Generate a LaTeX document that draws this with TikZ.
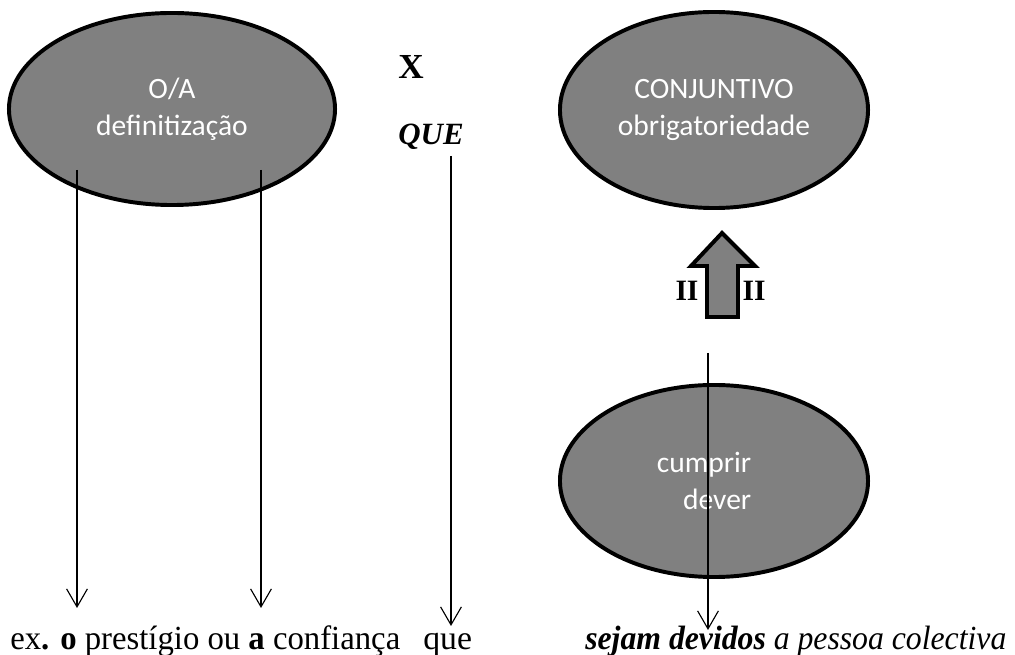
\documentclass[tikz,border=0pt]{standalone}
\usepackage{fontspec}
\setmainfont{Liberation Serif}
\newfontfamily\calfont{Carlito}
\usepackage{tikz}
\usetikzlibrary{arrows.meta,shapes.geometric}
\tikzset{
  line cap=round,
  line join=round,
  oval/.style={draw, ellipse, line width=2.8pt, fill=black!50, text=white,
    inner sep=0pt, align=center, font=\calfont\fontsize{21}{26}\selectfont},
  seta/.style={-{Straight Barb[length=0.45cm, width=0.52cm]}, line width=0.8pt},
  bigarrow/.style={draw, line width=2.8pt, fill=black!50, line join=miter},
  sinal/.style={font=\bfseries\fontsize{21}{24}\selectfont},
  linha/.style={font=\fontsize{24}{30}\selectfont, inner sep=0pt}
}

\begin{document}
\begin{tikzpicture}[x=0.025cm, y=-0.025cm]
  \useasboundingbox (0,0) rectangle (1015,655);

  \node[oval, minimum width=8.15cm, minimum height=4.8cm] (def) at (172,109)
    {O/A\\definitização};
  \node[oval, minimum width=7.7cm, minimum height=4.9cm] (conj) at (714,110)
    {CONJUNTIVO\\obrigatoriedade};
  \node[oval, minimum width=7.7cm, minimum height=4.8cm, align=right] (dever) at (714,481)
    {cumprir\hspace*{0.5cm}\\dever\hspace*{0.5cm}};

  \node[sinal, font=\bfseries\fontsize{25}{28}\selectfont] (x) at (411,67) {X};
  \node[sinal, font=\bfseries\itshape\fontsize{22}{24}\selectfont] (que) at (431,137) {QUE};

  \draw[bigarrow] (722,233) -- (755,266) -- (738,266) -- (738,317)
    -- (707,317) -- (707,266) -- (691,266) -- cycle;
  \node[sinal] (iiL) at (687,291) {II};
  \node[sinal] (iiR) at (754,291) {II};

  \node[linha, anchor=base west] (exemplo) at (10,650)
    {\scalebox{0.97}[1]{ex\textbf{.} \textbf{o} prestígio ou \textbf{a} confiança}};
  \node[linha, anchor=base west] (queb) at (423,650) {que};
  \node[linha, anchor=base west] (devidos) at (585,650)
    {\scalebox{0.94}[1]{\textbf{\textit{sejam devidos}} \textit{a pessoa colectiva}}};

  \coordinate (o1) at (77,170);
  \coordinate (o1f) at (77,608);
  \coordinate (a1) at (261,170);
  \coordinate (a1f) at (261,608);
  \coordinate (q1) at (451,156);
  \coordinate (q1f) at (451,626);
  \coordinate (d1) at (708,353);
  \coordinate (d1f) at (708,630);

  \draw[seta] (o1) -- (o1f);
  \draw[seta] (a1) -- (a1f);
  \draw[seta] (q1) -- (q1f);
  \draw[seta] (d1) -- (d1f);
\end{tikzpicture}
\end{document}
